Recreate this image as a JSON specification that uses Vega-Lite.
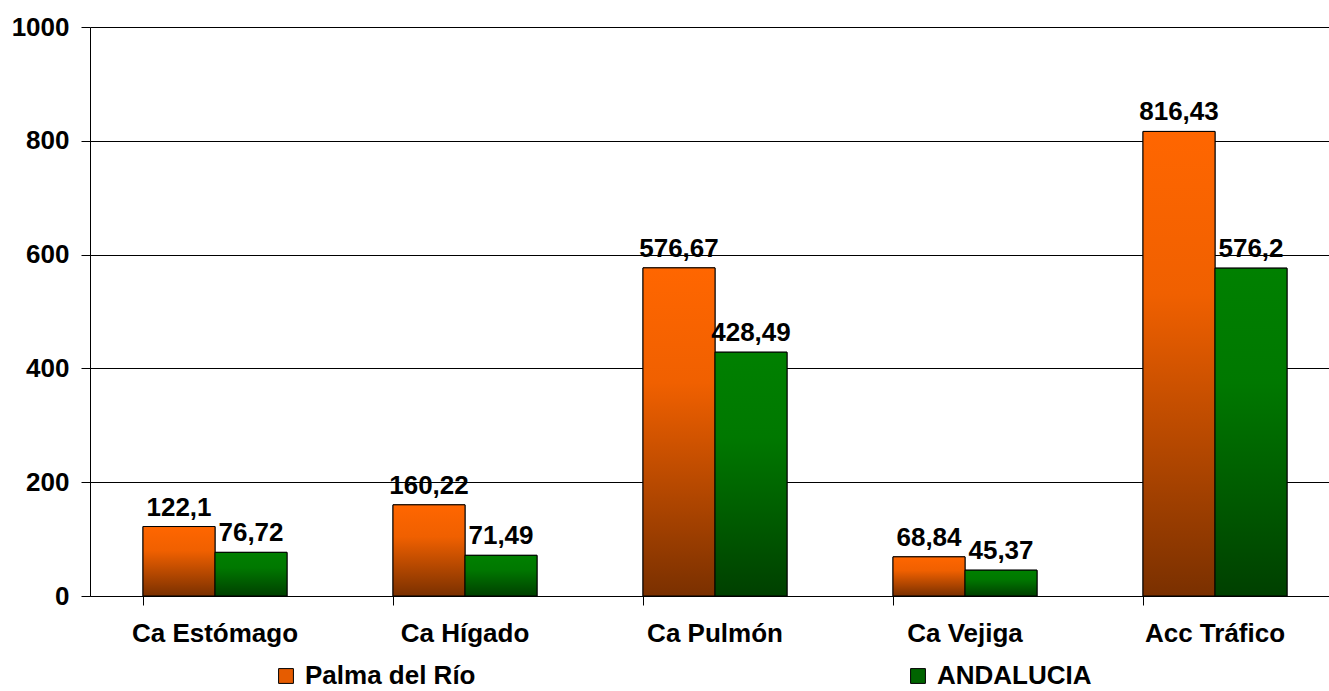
{
  "$schema": "https://vega.github.io/schema/vega-lite/v6.json",
  "width": 1250,
  "height": 569,
  "autosize": "none",
  "padding": {"left": 90, "top": 27, "right": 0, "bottom": 95},
  "background": "white",
  "config": {
    "view": {"stroke": null},
    "font": "Liberation Sans",
    "locale": {"number": {"decimal": ",", "thousands": ".", "grouping": [3], "currency": ["", "€"]}}
  },
  "data": {
    "values": [
      {"cat": "Ca Estómago", "series": "Palma del Río", "value": 122.1},
      {"cat": "Ca Hígado", "series": "Palma del Río", "value": 160.22},
      {"cat": "Ca Pulmón", "series": "Palma del Río", "value": 576.67},
      {"cat": "Ca Vejiga", "series": "Palma del Río", "value": 68.84},
      {"cat": "Acc Tráfico", "series": "Palma del Río", "value": 816.43},
      {"cat": "Ca Estómago", "series": "ANDALUCIA", "value": 76.72},
      {"cat": "Ca Hígado", "series": "ANDALUCIA", "value": 71.49},
      {"cat": "Ca Pulmón", "series": "ANDALUCIA", "value": 428.49},
      {"cat": "Ca Vejiga", "series": "ANDALUCIA", "value": 45.37},
      {"cat": "Acc Tráfico", "series": "ANDALUCIA", "value": 576.2}
    ]
  },
  "encoding": {
    "x": {
      "field": "cat",
      "type": "nominal",
      "sort": ["Ca Estómago", "Ca Hígado", "Ca Pulmón", "Ca Vejiga", "Acc Tráfico"],
      "scale": {"paddingInner": 0.424, "paddingOuter": 0.212},
      "axis": {
        "title": null,
        "labelAngle": 0,
        "labelFontSize": 26,
        "labelFontWeight": "bold",
        "labelColor": "black",
        "labelPadding": 15,
        "bandPosition": 0,
        "tickSize": 9,
        "tickColor": "black",
        "domainColor": "black",
        "grid": false
      }
    },
    "xOffset": {"field": "series", "type": "nominal", "sort": ["Palma del Río", "ANDALUCIA"]},
    "y": {
      "field": "value",
      "type": "quantitative",
      "scale": {"domain": [0, 1000], "nice": false},
      "axis": {
        "title": null,
        "values": [0, 200, 400, 600, 800, 1000],
        "labelFontSize": 26,
        "labelFontWeight": "bold",
        "labelColor": "black",
        "labelPadding": 12,
        "tickSize": 9,
        "tickColor": "black",
        "domainColor": "black",
        "gridColor": "black",
        "gridOpacity": 1,
        "format": "d"
      }
    }
  },
  "layer": [
    {
      "mark": {"type": "bar", "stroke": "black", "strokeWidth": 1},
      "encoding": {
        "color": {
          "field": "series",
          "type": "nominal",
          "scale": {"domain": ["Palma del Río", "ANDALUCIA"], "range": ["#E65C00", "#006400"]},
          "legend": {
            "title": null,
            "orient": "none",
            "legendX": 183,
            "legendY": 636,
            "direction": "horizontal",
            "columns": 2,
            "columnPadding": 429,
            "symbolType": "square",
            "symbolSize": 220,
            "symbolStrokeColor": "black",
            "symbolStrokeWidth": 1,
            "symbolOpacity": 1,
            "labelFontSize": 26,
            "labelFontWeight": "bold",
            "labelColor": "black",
            "labelOffset": 6,
            "labelLimit": 400
          }
        }
      }
    },
    {
      "transform": [{"filter": "datum.series === 'Palma del Río'"}],
      "mark": {
        "type": "bar",
        "stroke": "black",
        "strokeWidth": 1,
        "fill": {
          "gradient": "linear",
          "x1": 0, "y1": 0, "x2": 0, "y2": 1,
          "stops": [
            {"offset": 0, "color": "#FF6600"},
            {"offset": 0.35, "color": "#F06000"},
            {"offset": 1, "color": "#7A3000"}
          ]
        }
      }
    },
    {
      "transform": [{"filter": "datum.series === 'ANDALUCIA'"}],
      "mark": {
        "type": "bar",
        "stroke": "black",
        "strokeWidth": 1,
        "fill": {
          "gradient": "linear",
          "x1": 0, "y1": 0, "x2": 0, "y2": 1,
          "stops": [
            {"offset": 0, "color": "#008000"},
            {"offset": 0.35, "color": "#007800"},
            {"offset": 1, "color": "#004000"}
          ]
        }
      }
    },
    {
      "mark": {"type": "text", "baseline": "bottom", "dy": -6, "fontSize": 26, "fontWeight": "bold", "color": "black"},
      "encoding": {
        "text": {"field": "value", "type": "quantitative", "format": ".2~f"}
      }
    }
  ]
}
